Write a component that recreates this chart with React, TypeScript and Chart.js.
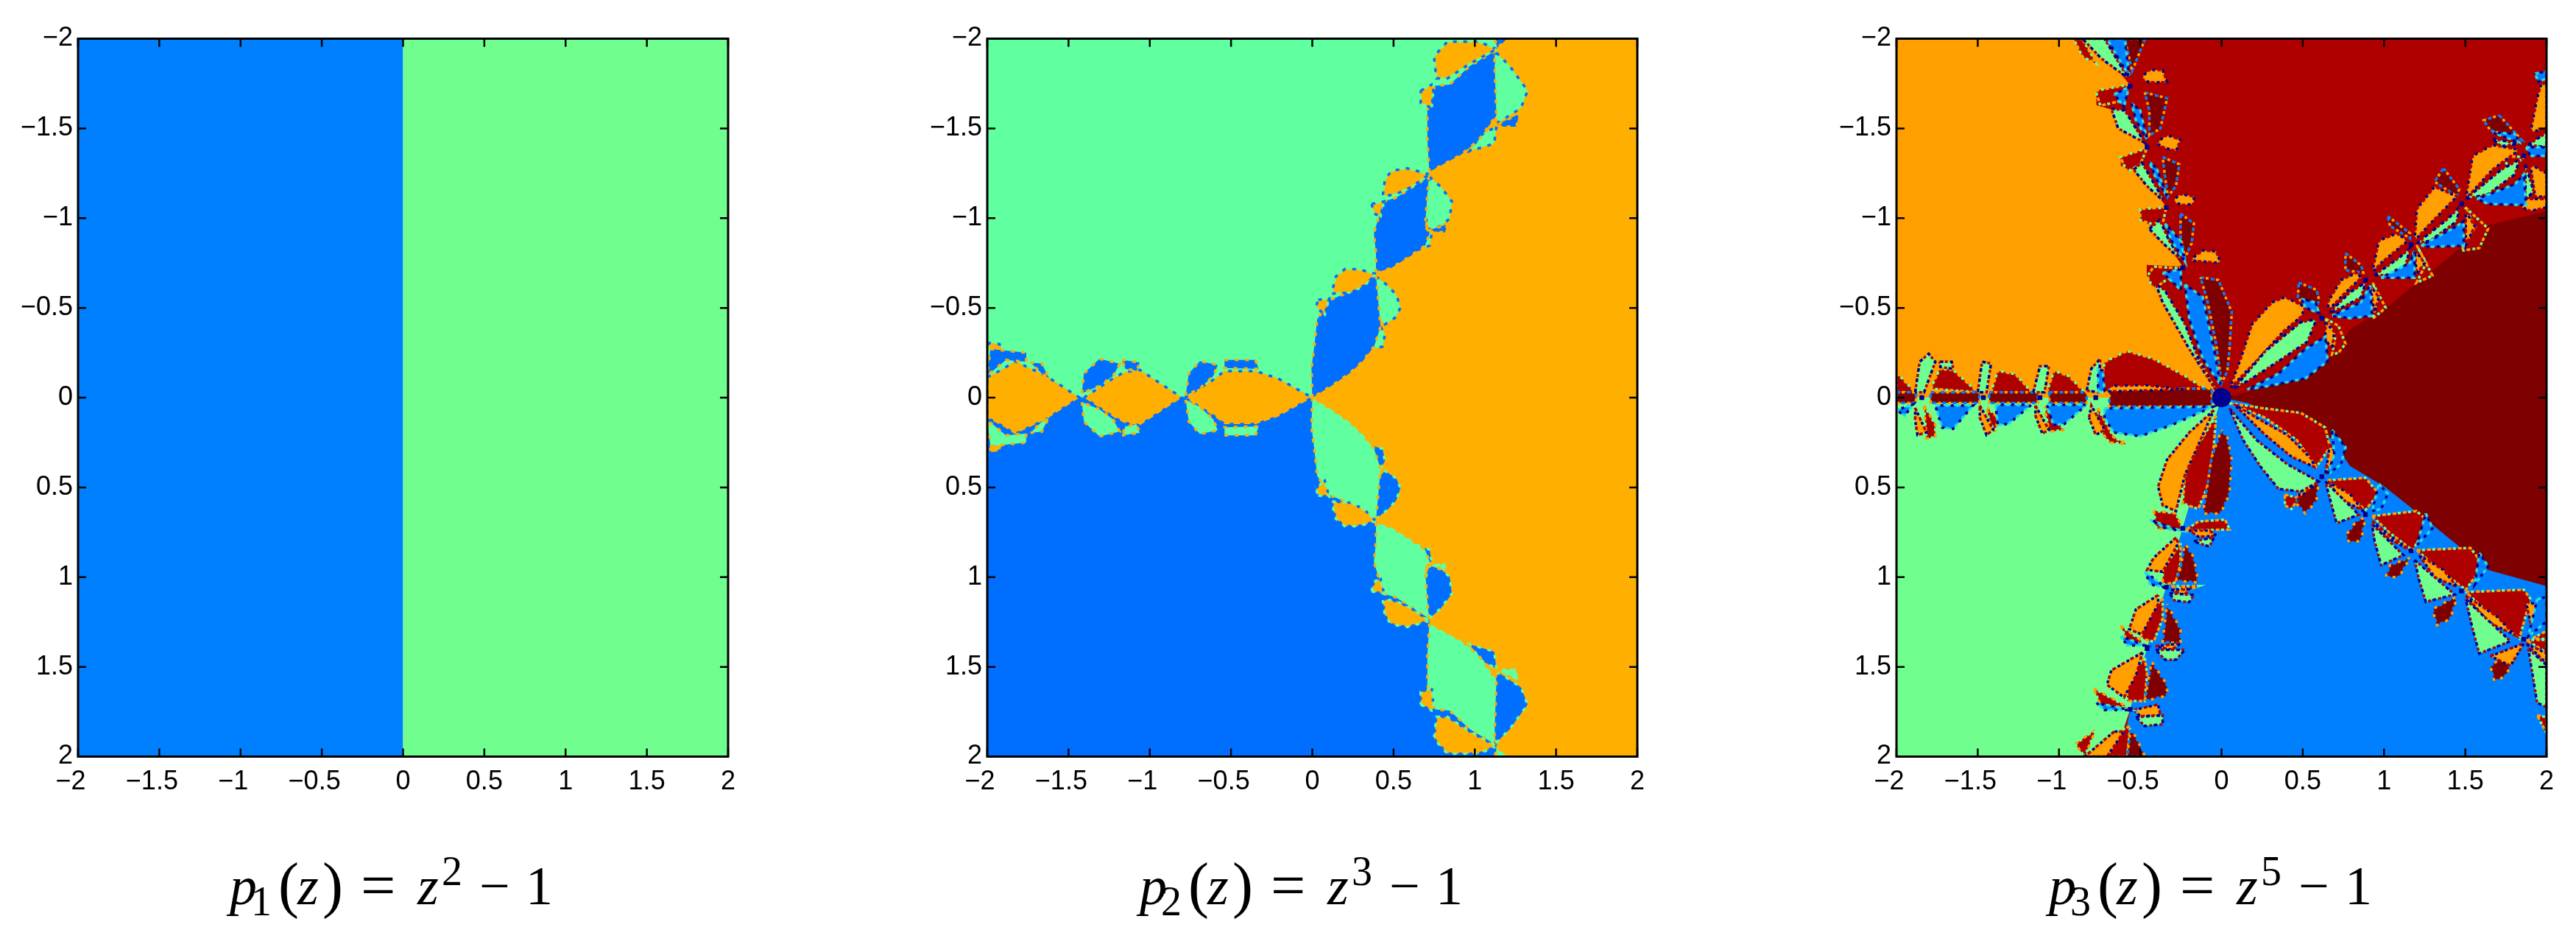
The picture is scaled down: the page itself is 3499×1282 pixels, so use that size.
import React, { useEffect, useRef } from "react";
import { Chart, registerables } from "chart.js";
Chart.register(...registerables);

type Poly = number[][];
const tickValues = [-2, -1.5, -1, -0.5, 0, 0.5, 1, 1.5, 2];
const xTickLabels = ["\u22122  ", "\u22121.5  ", "\u22121  ", "\u22120.5  ", "0", "0.5", "1", "1.5", "2"];
const yTickLabels = ["\u22122", "\u22121.5", "\u22121", "\u22120.5", "0", "0.5", "1", "1.5", "2"];

/* ---------- panel 1 ---------- */
const p1Blue: Poly[] = [[[-2, -2], [0, -2], [0, 2], [-2, 2]]];
const p1Green: Poly[] = [[[0, -2], [2, -2], [2, 2], [0, 2]]];

/* ---------- panel 2 ---------- */
const p2Back: Poly[] = [[[-2, -2], [2, -2], [2, 2], [-2, 2]]];
const p2BaseGreen: Poly[] = [[[-2, -2], [1.13, -2], [1.133, -1.93], [0.72, -1.244], [0.392, -0.689], [0, 0], [-2, 0]]];
const p2BaseBlue: Poly[] = [[[-2, 2], [1.13, 2], [1.133, 1.93], [0.72, 1.244], [0.392, 0.689], [0, 0], [-2, 0]]];
const p2TopOrange: Poly[] = [
  [[0.392, -0.689], [0.283, -0.716], [0.2, -0.716], [0.145, -0.675], [0.118, -0.579], [0.241, -0.586], [0.324, -0.627]],
  [[0.036, -0.545], [0.104, -0.552], [0.077, -0.463], [0.022, -0.504]],
  [[0.72, -1.244], [0.584, -1.278], [0.488, -1.264], [0.447, -1.216], [0.433, -1.121], [0.516, -1.134], [0.612, -1.175]],
  [[0.365, -1.079], [0.442, -1.093], [0.42, -1.011], [0.379, -1.025]],
  [[1.133, -1.942], [1.024, -1.984], [0.831, -1.984], [0.749, -1.901], [0.763, -1.778], [0.831, -1.778], [0.969, -1.86]],
  [[0.667, -1.71], [0.749, -1.751], [0.735, -1.614], [0.667, -1.641]],
];
const p2LowOrange: Poly[] = [
  [[0.392, 0.689], [0.283, 0.716], [0.2, 0.716], [0.145, 0.675], [0.118, 0.579], [0.241, 0.586], [0.324, 0.627]],
  [[0.036, 0.545], [0.104, 0.552], [0.077, 0.463], [0.022, 0.504]],
  [[0.72, 1.244], [0.584, 1.278], [0.488, 1.264], [0.447, 1.216], [0.433, 1.121], [0.516, 1.134], [0.612, 1.175]],
  [[0.365, 1.079], [0.442, 1.093], [0.42, 1.011], [0.379, 1.025]],
  [[1.133, 1.942], [1.024, 1.984], [0.831, 1.984], [0.749, 1.901], [0.763, 1.778], [0.831, 1.778], [0.969, 1.86]],
  [[0.667, 1.71], [0.749, 1.751], [0.735, 1.614], [0.667, 1.641]],
];
const p2Arches: Poly[] = [
  [[-0.785, 0], [-0.609, -0.1], [-0.54, -0.148], [-0.348, -0.148], [-0.211, -0.107], [0, 0], [-0.211, 0.107], [-0.348, 0.148], [-0.54, 0.148], [-0.609, 0.1]],
  [[-1.405, 0], [-1.226, -0.107], [-1.158, -0.141], [-1.062, -0.155], [-0.801, 0], [-1.062, 0.155], [-1.158, 0.141], [-1.226, 0.107]],
  [[-2, -0.114], [-1.898, -0.162], [-1.83, -0.203], [-1.638, -0.121], [-1.432, 0], [-1.638, 0.121], [-1.83, 0.203], [-1.898, 0.162], [-2, 0.114]],
  [[-2, -0.305], [-1.926, -0.299], [-1.898, -0.244], [-1.98, -0.271]],
  [[-2, 0.305], [-1.926, 0.299], [-1.898, 0.244], [-1.98, 0.271]],
];
const p2TopBlue: Poly[] = [
  [[0, 0], [-0.005, -0.162], [0.014, -0.3], [0.03, -0.436], [0.11, -0.545], [0.186, -0.573], [0.283, -0.614], [0.392, -0.682], [0.42, -0.395], [0.38, -0.285], [0.31, -0.203], [0.228, -0.134], [0.118, -0.066]],
  [[0.392, -0.696], [0.392, -0.805], [0.379, -0.915], [0.406, -0.997], [0.442, -1.093], [0.516, -1.114], [0.598, -1.162], [0.716, -1.23], [0.694, -0.956], [0.722, -0.915], [0.694, -0.847], [0.584, -0.778], [0.488, -0.723]],
  [[0.72, -1.258], [0.708, -1.436], [0.708, -1.6], [0.754, -1.737], [0.845, -1.744], [0.969, -1.847], [1.119, -1.929], [1.133, -1.573], [1.024, -1.436], [0.914, -1.353], [0.804, -1.299]],
  [[0.71, -0.93], [0.831, -0.965], [0.817, -0.92]],
  [[1.147, -1.525], [1.27, -1.58], [1.257, -1.51], [1.175, -1.51]],
  [[1.12, -2], [1.2, -2], [1.14, -1.95]],
  [[-0.779, -0.011], [-0.76, -0.134], [-0.691, -0.203], [-0.582, -0.182], [-0.609, -0.121], [-0.691, -0.052]],
  [[-1.418, -0.025], [-1.405, -0.134], [-1.309, -0.216], [-1.185, -0.189], [-1.226, -0.121], [-1.309, -0.066]],
  [[-0.54, -0.21], [-0.35, -0.21], [-0.33, -0.16], [-0.54, -0.165]],
  [[-1.171, -0.21], [-1.062, -0.196], [-1.08, -0.15], [-1.15, -0.16]],
  [[-1.734, -0.196], [-1.665, -0.19], [-1.62, -0.11], [-1.66, -0.13]],
  [[-1.98, -0.271], [-1.76, -0.25], [-1.761, -0.2], [-1.885, -0.21], [-1.967, -0.148], [-2, -0.13]],
];
const p2TopGreen: Poly[] = [
  [[0.392, -0.675], [0.461, -0.627], [0.516, -0.573], [0.543, -0.504], [0.516, -0.449], [0.447, -0.408], [0.406, -0.449], [0.379, -0.504]],
  [[0.42, -0.395], [0.447, -0.353], [0.433, -0.285], [0.379, -0.271], [0.365, -0.312]],
  [[0.722, -1.23], [0.79, -1.175], [0.859, -1.093], [0.845, -0.997], [0.79, -0.956], [0.722, -0.936], [0.694, -1.011], [0.694, -1.093]],
  [[0.68, -0.915], [0.735, -0.915], [0.722, -0.847], [0.639, -0.82], [0.584, -0.785]],
  [[1.133, -1.922], [1.215, -1.847], [1.325, -1.71], [1.284, -1.614], [1.147, -1.532], [1.092, -1.641], [1.092, -1.778]],
  [[1.133, -1.51], [1.119, -1.415], [0.969, -1.374], [1.037, -1.463]],
];
const p2LowGreen: Poly[] = [
  [[0, 0], [-0.005, 0.162], [0.014, 0.3], [0.03, 0.436], [0.11, 0.545], [0.186, 0.573], [0.283, 0.614], [0.392, 0.682], [0.42, 0.395], [0.38, 0.285], [0.31, 0.203], [0.228, 0.134], [0.118, 0.066]],
  [[0.392, 0.696], [0.392, 0.805], [0.379, 0.915], [0.406, 0.997], [0.442, 1.093], [0.516, 1.114], [0.598, 1.162], [0.716, 1.23], [0.694, 0.956], [0.722, 0.915], [0.694, 0.847], [0.584, 0.778], [0.488, 0.723]],
  [[0.72, 1.258], [0.708, 1.436], [0.708, 1.6], [0.754, 1.737], [0.845, 1.744], [0.969, 1.847], [1.119, 1.929], [1.133, 1.573], [1.024, 1.436], [0.914, 1.353], [0.804, 1.299]],
  [[0.71, 0.93], [0.831, 0.965], [0.817, 0.92]],
  [[1.147, 1.525], [1.27, 1.58], [1.257, 1.51], [1.175, 1.51]],
  [[1.12, 2], [1.2, 2], [1.14, 1.95]],
  [[-0.779, 0.011], [-0.76, 0.134], [-0.691, 0.203], [-0.582, 0.182], [-0.609, 0.121], [-0.691, 0.052]],
  [[-1.418, 0.025], [-1.405, 0.134], [-1.309, 0.216], [-1.185, 0.189], [-1.226, 0.121], [-1.309, 0.066]],
  [[-0.54, 0.21], [-0.35, 0.21], [-0.33, 0.16], [-0.54, 0.165]],
  [[-1.171, 0.21], [-1.062, 0.196], [-1.08, 0.15], [-1.15, 0.16]],
  [[-1.734, 0.196], [-1.665, 0.19], [-1.62, 0.11], [-1.66, 0.13]],
  [[-1.98, 0.271], [-1.76, 0.25], [-1.761, 0.2], [-1.885, 0.21], [-1.967, 0.148], [-2, 0.13]],
];
const p2LowBlue: Poly[] = [
  [[0.392, 0.675], [0.461, 0.627], [0.516, 0.573], [0.543, 0.504], [0.516, 0.449], [0.447, 0.408], [0.406, 0.449], [0.379, 0.504]],
  [[0.42, 0.395], [0.447, 0.353], [0.433, 0.285], [0.379, 0.271], [0.365, 0.312]],
  [[0.722, 1.23], [0.79, 1.175], [0.859, 1.093], [0.845, 0.997], [0.79, 0.956], [0.722, 0.936], [0.694, 1.011], [0.694, 1.093]],
  [[0.68, 0.915], [0.735, 0.915], [0.722, 0.847], [0.639, 0.82], [0.584, 0.785]],
  [[1.133, 1.922], [1.215, 1.847], [1.325, 1.71], [1.284, 1.614], [1.147, 1.532], [1.092, 1.641], [1.092, 1.778]],
  [[1.133, 1.51], [1.119, 1.415], [0.969, 1.374], [1.037, 1.463]],
];

/* ---------- panel 3 ---------- */
const p3Back: Poly[] = [[[-2, -2], [2, -2], [2, 2], [-2, 2]]];
const p3BaseOrange: Poly[] = [[[-2, -2], [-0.8, -2], [-0.72, -1.92], [-0.562, -1.74], [-0.77, -1.71], [-0.77, -1.63], [-0.66, -1.6], [-0.56, -1.52], [-0.458, -1.39], [-0.62, -1.34], [-0.62, -1.29], [-0.52, -1.28], [-0.43, -1.19], [-0.34, -1.06], [-0.5, -1.05], [-0.5, -0.99], [-0.44, -0.96], [-0.34, -0.87], [-0.24, -0.73], [-0.46, -0.74], [-0.46, -0.68], [-0.38, -0.62], [-0.25, -0.41], [0, 0], [-2, 0]]];
const p3BaseMaroon: Poly[] = [[[0, 0], [0.16, -0.03], [0.68, -0.23], [0.79, -0.38], [1.01, -0.5], [1.3, -0.71], [1.64, -0.96], [2, -1.04], [2, 1.05], [1.64, 0.96], [1.3, 0.71], [1.01, 0.5], [0.79, 0.38], [0.68, 0.23], [0.16, 0.03]]];
const p3BaseGreen: Poly[] = [[[-2, 0], [0, 0], [-0.239, 0.728], [-0.34, 1.056], [-0.458, 1.398], [-0.562, 1.737], [-0.66, 2], [-2, 2]]];
const p3BaseBlue: Poly[] = [[[0, 0], [-0.239, 0.728], [-0.34, 1.056], [-0.458, 1.398], [-0.562, 1.737], [-0.62, 2], [2, 2], [2, 1.05], [1.64, 0.96], [1.3, 0.71], [1.01, 0.5], [0.79, 0.38], [0.68, 0.23], [0.16, 0.03]]];

const p3Dark: Poly[] = [
  [[-0.239, -0.72], [-0.417, -0.73], [-0.458, -0.675], [-0.417, -0.605], [-0.334, -0.66]],
  [[-0.34, -1.059], [-0.5, -1.052], [-0.5, -0.99], [-0.444, -0.97], [-0.362, -0.97]],
  [[-0.458, -1.39], [-0.623, -1.34], [-0.58, -1.258], [-0.5, -1.3]],
  [[-0.568, -1.744], [-0.774, -1.71], [-0.746, -1.627], [-0.609, -1.655]],
  [[-0.91, -2], [-0.856, -2], [-0.77, -1.86], [-0.856, -1.9]],
  [[0.64, -0.44], [0.72, -0.4], [0.763, -0.3], [0.72, -0.25], [0.68, -0.24], [0.7, -0.34]],
  [[0.93, -0.64], [1.01, -0.5], [0.93, -0.44], [0.96, -0.55]],
  [[1.2, -0.85], [1.298, -0.68], [1.2, -0.64], [1.26, -0.75]],
  [[1.5, -1.06], [1.641, -0.942], [1.586, -0.833], [1.476, -0.819], [1.56, -0.95]],
  [[1.723, -1.347], [1.86, -1.34], [1.778, -1.271]],
  [[-0.75, -0.03], [-0.719, -0.2], [-0.582, -0.26], [-0.417, -0.216], [-0.225, -0.121], [-0.05, -0.02]],
  [[-0.76, 0.06], [-0.664, 0.22], [-0.58, 0.26], [-0.69, 0.25], [-0.774, 0.15]],
  [[-1.075, -0.03], [-1.03, -0.15], [-0.94, -0.12], [-0.83, -0.02]],
  [[-1.09, 0.05], [-0.966, 0.18], [-1.06, 0.19]],
  [[-1.418, -0.03], [-1.377, -0.15], [-1.267, -0.13], [-1.158, -0.02]],
  [[-1.446, 0.05], [-1.377, 0.112], [-1.39, 0.194], [-1.43, 0.13]],
  [[-1.789, -0.05], [-1.734, -0.16], [-1.652, -0.155], [-1.5, -0.03]],
  [[-2, -0.03], [-2, -0.14], [-1.885, -0.03]],
  [[-1.83, 0.044], [-1.761, 0.15], [-1.761, 0.22], [-1.816, 0.228]],
  [[-0.033, 0.1], [-0.143, 0.263], [-0.225, 0.43], [-0.239, 0.59], [-0.143, 0.62], [-0.074, 0.468], [-0.047, 0.263]],
  [[-0.417, 0.63], [-0.4, 0.73], [-0.239, 0.735], [-0.28, 0.645]],
  [[-0.225, 0.74], [0.05, 0.735], [0.022, 0.68], [-0.143, 0.69]],
  [[-0.252, 0.81], [-0.362, 0.96], [-0.362, 1.04], [-0.28, 1.03], [-0.252, 0.92]],
  [[-0.31, 1.05], [-0.14, 1.05], [-0.2, 1.07]],
  [[-0.362, 1.12], [-0.458, 1.22], [-0.5, 1.34], [-0.417, 1.36], [-0.362, 1.23]],
  [[-0.62, 1.27], [-0.47, 1.37], [-0.58, 1.36]],
  [[-0.472, 1.45], [-0.582, 1.56], [-0.582, 1.69], [-0.472, 1.69], [-0.458, 1.54]],
  [[-0.787, 1.62], [-0.565, 1.73], [-0.746, 1.71]],
  [[-0.609, 1.85], [-0.705, 2], [-0.58, 2], [-0.562, 1.83]],
  [[-0.9, 1.93], [-0.774, 1.85], [-0.842, 2]],
  [[0.049, 0.03], [0.241, 0.057], [0.488, 0.085], [0.639, 0.167], [0.667, 0.276], [0.584, 0.386], [0.461, 0.235], [0.269, 0.112]],
  [[0.39, 0.54], [0.475, 0.56], [0.43, 0.62], [0.39, 0.6]],
  [[0.653, 0.46], [0.886, 0.447], [0.968, 0.536], [0.886, 0.625], [0.763, 0.536]],
  [[0.927, 0.66], [1.2, 0.632], [1.284, 0.7], [1.174, 0.85], [1.037, 0.755]],
  [[1.202, 0.85], [1.531, 0.837], [1.613, 0.933], [1.503, 1.07], [1.339, 0.96]],
  [[1.503, 1.083], [1.86, 1.07], [1.9, 1.12], [1.833, 1.343], [1.668, 1.22]],
  [[1.915, 1.34], [2, 1.3], [2, 1.345]],
  [[1.874, 1.35], [2, 1.35], [2, 1.42]],
  [[1.942, 1.77], [2, 1.78], [2, 1.87]],
];
const p3Maroon: Poly[] = [
  [[-0.129, -0.67], [-0.019, -0.655], [0.063, -0.477], [0.049, -0.27], [0.036, -0.148], [0, -0.08], [-0.033, -0.3], [-0.088, -0.545]],
  [[-0.252, -1.025], [-0.17, -0.97], [-0.184, -0.86], [-0.225, -0.778], [-0.252, -0.9]],
  [[-0.362, -1.34], [-0.26, -1.3], [-0.28, -1.18], [-0.33, -1.12], [-0.35, -1.25]],
  [[-0.472, -1.7], [-0.335, -1.668], [-0.376, -1.5], [-0.444, -1.46], [-0.444, -1.6]],
  [[-0.595, -2], [-0.47, -2], [-0.55, -1.82]],
  [[0.475, -0.641], [0.585, -0.6], [0.6, -0.545], [0.58, -0.49], [0.47, -0.55]],
  [[0.763, -0.805], [0.859, -0.737], [0.872, -0.696], [0.763, -0.71]],
  [[1.023, -1.011], [1.16, -0.915], [1.16, -0.888], [1.037, -0.956]],
  [[1.366, -1.278], [1.462, -1.162], [1.449, -1.121], [1.311, -1.203]],
  [[1.709, -1.573], [1.846, -1.436], [1.805, -1.449], [1.654, -1.49], [1.613, -1.545]],
  [[-0.69, -0.05], [-0.06, -0.05], [-0.06, 0.05], [-0.69, 0.05]],
  [[-1.06, -0.03], [-0.83, -0.03], [-0.83, 0.03], [-1.06, 0.03]],
  [[-1.43, -0.03], [-1.13, -0.03], [-1.13, 0.03], [-1.43, 0.03]],
  [[-1.79, -0.03], [-1.49, -0.03], [-1.49, 0.03], [-1.79, 0.03]],
  [[-2, -0.03], [-1.88, -0.03], [-1.88, 0.03], [-2, 0.03]],
  [[0, 0.18], [-0.06, 0.33], [-0.088, 0.495], [-0.115, 0.646], [-0.005, 0.646], [0.049, 0.536], [0.063, 0.345], [0.036, 0.222]],
  [[-0.225, 0.81], [-0.252, 0.95], [-0.28, 1.02], [-0.143, 1.03], [-0.17, 0.89]],
  [[-0.335, 1.15], [-0.362, 1.36], [-0.252, 1.37], [-0.252, 1.29]],
  [[-0.43, 1.47], [-0.472, 1.69], [-0.335, 1.66], [-0.335, 1.6]],
  [[-0.56, 1.85], [-0.58, 2], [-0.47, 2], [-0.527, 1.89]],
  [[0.598, 0.468], [0.584, 0.577], [0.516, 0.646], [0.461, 0.59], [0.475, 0.536]],
  [[0.886, 0.666], [0.859, 0.796], [0.79, 0.81], [0.763, 0.77], [0.831, 0.686]],
  [[1.16, 0.892], [1.092, 1.0], [1.01, 1.0], [1.037, 0.933]],
  [[1.45, 1.11], [1.407, 1.234], [1.325, 1.268], [1.298, 1.18], [1.407, 1.124]],
  [[1.833, 1.384], [1.75, 1.549], [1.68, 1.583], [1.654, 1.494]],
];
const p3Orange: Poly[] = [
  [[-0.197, -0.765], [-0.115, -0.82], [-0.033, -0.815], [-0.005, -0.75], [-0.14, -0.76]],
  [[-0.307, -1.093], [-0.252, -1.134], [-0.17, -1.121], [-0.17, -1.079], [-0.239, -1.073]],
  [[-0.403, -1.42], [-0.335, -1.463], [-0.252, -1.436], [-0.28, -1.374], [-0.36, -1.395]],
  [[-0.5, -1.778], [-0.444, -1.826], [-0.362, -1.826], [-0.335, -1.757], [-0.444, -1.757]],
  [[0.049, -0.05], [0.118, -0.216], [0.187, -0.408], [0.31, -0.53], [0.392, -0.56], [0.516, -0.504], [0.488, -0.45], [0.379, -0.367], [0.214, -0.203]],
  [[0.64, -0.42], [0.694, -0.367], [0.68, -0.27], [0.639, -0.326]],
  [[0.653, -0.53], [0.735, -0.655], [0.831, -0.696], [0.859, -0.668], [0.763, -0.586], [0.66, -0.49]],
  [[0.914, -0.627], [0.968, -0.559], [0.941, -0.477]],
  [[0.927, -0.696], [0.968, -0.874], [1.078, -0.915], [1.147, -0.874], [0.982, -0.751]],
  [[1.19, -0.82], [1.25, -0.75], [1.2, -0.69]],
  [[1.188, -0.874], [1.202, -1.052], [1.311, -1.175], [1.449, -1.121], [1.284, -0.97]],
  [[1.503, -1.038], [1.558, -0.956], [1.503, -0.847]],
  [[1.503, -1.107], [1.545, -1.347], [1.668, -1.408], [1.833, -1.381], [1.668, -1.271]],
  [[1.901, -1.477], [1.942, -1.668], [1.97, -1.757], [2, -1.737], [2, -1.504]],
  [[1.9, -1.3], [2, -1.25], [2, -1.12], [1.93, -1.12]],
  [[1.833, -1.107], [2, -1.107], [2, -1.06], [1.9, -1.04], [1.85, -1.06]],
  [[-0.69, -0.065], [-0.47, -0.07], [-0.225, -0.045], [-0.69, -0.035]],
  [[-0.815, 0.112], [-0.801, 0.044], [-0.719, 0.18], [-0.774, 0.208]],
  [[-1.145, 0.044], [-1.062, 0.18], [-1.103, 0.2], [-1.145, 0.1]],
  [[-1.487, 0.044], [-1.405, 0.18], [-1.446, 0.208], [-1.487, 0.112]],
  [[-1.885, 0.057], [-1.816, 0.194], [-1.871, 0.208], [-1.885, 0.126]],
  [[-0.047, 0.07], [-0.198, 0.194], [-0.335, 0.345], [-0.39, 0.495], [-0.362, 0.6], [-0.28, 0.632], [-0.225, 0.43], [-0.088, 0.153]],
  [[-0.198, 0.74], [-0.074, 0.74], [-0.03, 0.77], [-0.143, 0.775]],
  [[-0.28, 0.78], [-0.417, 0.892], [-0.458, 0.96], [-0.362, 0.97], [-0.266, 0.81]],
  [[-0.31, 1.07], [-0.2, 1.07], [-0.23, 1.1]],
  [[-0.39, 1.1], [-0.527, 1.18], [-0.568, 1.29], [-0.49, 1.32], [-0.39, 1.15]],
  [[-0.405, 1.385], [-0.252, 1.37], [-0.307, 1.405]],
  [[-0.486, 1.42], [-0.678, 1.52], [-0.705, 1.6], [-0.6, 1.67], [-0.527, 1.55]],
  [[-0.54, 1.74], [-0.39, 1.71], [-0.376, 1.77], [-0.5, 1.775]],
  [[-0.66, 1.86], [-0.842, 2], [-0.705, 2], [-0.6, 1.86]],
  [[0.077, 0.037], [0.241, 0.126], [0.406, 0.208], [0.557, 0.345], [0.571, 0.386], [0.433, 0.331], [0.269, 0.208]],
  [[0.488, 0.495], [0.598, 0.468], [0.475, 0.56]],
  [[0.667, 0.26], [0.708, 0.317], [0.639, 0.427]],
  [[0.653, 0.468], [0.79, 0.536], [0.872, 0.632], [0.735, 0.564]],
  [[0.927, 0.687], [1.037, 0.77], [1.16, 0.85], [1.023, 0.782]],
  [[1.215, 0.878], [1.366, 0.96], [1.449, 1.055], [1.311, 1.0]],
  [[1.503, 1.104], [1.695, 1.22], [1.805, 1.323], [1.64, 1.25]],
  [[1.654, 1.44], [1.86, 1.37], [1.778, 1.494]],
  [[1.874, 1.138], [1.942, 1.152], [1.915, 1.316]],
  [[1.874, 1.37], [2, 1.425], [2, 1.48]],
];
const p3Green: Poly[] = [
  [[-0.033, -0.04], [-0.198, -0.27], [-0.362, -0.53], [-0.403, -0.63], [-0.35, -0.6], [-0.225, -0.41], [-0.143, -0.22]],
  [[-0.444, -0.94], [-0.38, -0.99], [-0.32, -0.87], [-0.24, -0.76], [-0.36, -0.86]],
  [[-0.54, -1.27], [-0.49, -1.31], [-0.42, -1.2], [-0.35, -1.09], [-0.46, -1.18]],
  [[-0.678, -1.61], [-0.595, -1.6], [-0.472, -1.42], [-0.636, -1.5]],
  [[-0.856, -2], [-0.72, -2], [-0.575, -1.78], [-0.74, -1.89]],
  [[0.077, -0.05], [0.269, -0.258], [0.488, -0.42], [0.584, -0.436], [0.529, -0.312], [0.351, -0.203], [0.187, -0.107]],
  [[0.66, -0.47], [0.79, -0.586], [0.886, -0.641], [0.859, -0.559], [0.735, -0.5]],
  [[0.941, -0.682], [1.092, -0.778], [1.16, -0.833], [1.133, -0.737], [1.037, -0.682]],
  [[1.202, -0.86], [1.394, -0.997], [1.462, -1.059], [1.449, -0.984], [1.284, -0.874]],
  [[1.503, -1.107], [1.723, -1.271], [1.833, -1.326], [1.805, -1.244], [1.641, -1.134]],
  [[1.668, -1.442], [1.833, -1.415], [1.72, -1.4]],
  [[1.888, -1.408], [2, -1.477], [2, -1.395]],
  [[1.87, -1.3], [1.92, -1.15], [1.87, -1.1]],
  [[-0.829, -0.04], [-0.801, -0.162], [-0.746, -0.216], [-0.76, -0.03]],
  [[-1.158, -0.03], [-1.117, -0.175], [-1.062, -0.175], [-1.089, -0.03]],
  [[-1.5, -0.03], [-1.473, -0.2], [-1.418, -0.19], [-1.446, -0.03]],
  [[-1.885, -0.03], [-1.857, -0.2], [-1.802, -0.244], [-1.761, -0.2], [-1.83, -0.03]],
  [[-1.734, -0.2], [-1.66, -0.2], [-1.65, -0.16], [-1.73, -0.17]],
  [[-0.17, 0.8], [-0.047, 0.78], [-0.074, 0.83], [-0.143, 0.81]],
  [[-0.32, 1.09], [-0.17, 1.1], [-0.2, 1.14], [-0.29, 1.13]],
  [[-0.405, 1.405], [-0.225, 1.405], [-0.28, 1.46], [-0.348, 1.46]],
  [[-0.527, 1.78], [-0.362, 1.77], [-0.362, 1.82], [-0.472, 1.83]],
  [[0.049, 0.06], [0.214, 0.235], [0.406, 0.372], [0.543, 0.44], [0.598, 0.468], [0.488, 0.523], [0.351, 0.509], [0.241, 0.386], [0.132, 0.235]],
  [[0.639, 0.468], [0.845, 0.652], [0.708, 0.7], [0.667, 0.564]],
  [[0.927, 0.707], [1.12, 0.878], [0.982, 0.933], [0.941, 0.796]],
  [[1.188, 0.905], [1.435, 1.097], [1.257, 1.138], [1.215, 1.014]],
  [[1.503, 1.124], [1.778, 1.357], [1.586, 1.426], [1.545, 1.289]],
  [[1.888, 1.4], [2, 1.49], [2, 1.725], [1.942, 1.7]],
];
const p3Blue: Poly[] = [
  [[-0.225, -0.63], [-0.115, -0.56], [-0.047, -0.27], [-0.005, -0.07], [-0.115, -0.216], [-0.198, -0.436]],
  [[-0.362, -0.695], [-0.25, -0.715], [-0.25, -0.6]],
  [[-0.348, -0.97], [-0.252, -0.874], [-0.225, -0.758], [-0.307, -0.874]],
  [[-0.444, -1.312], [-0.4, -1.28], [-0.335, -1.121], [-0.403, -1.22]],
  [[-0.554, -1.64], [-0.5, -1.6], [-0.458, -1.44], [-0.527, -1.545]],
  [[-0.66, -1.69], [-0.57, -1.73], [-0.6, -1.62]],
  [[-0.705, -2], [-0.595, -2], [-0.568, -1.79], [-0.65, -1.915]],
  [[0.159, -0.045], [0.351, -0.134], [0.516, -0.271], [0.639, -0.34], [0.653, -0.203], [0.516, -0.107], [0.296, -0.066]],
  [[0.49, -0.55], [0.58, -0.53], [0.6, -0.47], [0.52, -0.5]],
  [[0.68, -0.456], [0.859, -0.532], [0.914, -0.627], [0.927, -0.456], [0.79, -0.442]],
  [[0.982, -0.668], [1.16, -0.751], [1.188, -0.819], [1.188, -0.668]],
  [[1.229, -0.847], [1.449, -0.956], [1.49, -0.984], [1.49, -0.847], [1.284, -0.84]],
  [[1.572, -1.107], [1.805, -1.189], [1.86, -1.244], [1.874, -1.073], [1.641, -1.079]],
  [[1.668, -1.477], [1.805, -1.47], [1.833, -1.422]],
  [[1.874, -1.395], [2, -1.395], [2, -1.347], [1.901, -1.347]],
  [[1.929, -1.805], [2, -1.819], [2, -1.778], [1.95, -1.76]],
  [[-0.76, -0.03], [-0.76, -0.16], [-0.73, -0.15], [-0.72, -0.04]],
  [[-0.72, 0.06], [-0.05, 0.05], [-0.307, 0.153], [-0.5, 0.215], [-0.664, 0.194], [-0.72, 0.112]],
  [[-1.075, 0.04], [-0.83, 0.04], [-0.966, 0.146], [-1.034, 0.153]],
  [[-1.39, 0.04], [-1.17, 0.04], [-1.31, 0.146], [-1.377, 0.153]],
  [[-1.761, 0.044], [-1.528, 0.044], [-1.652, 0.174], [-1.72, 0.167]],
  [[-2, 0.07], [-1.896, 0.037], [-1.95, 0.1]],
  [[-0.44, 0.68], [-0.34, 0.73], [-0.26, 0.74]],
  [[-0.47, 0.97], [-0.44, 1.04], [-0.34, 1.06]],
  [[-0.62, 1.33], [-0.47, 1.38], [-0.58, 1.38]],
  [[-0.77, 1.7], [-0.565, 1.74], [-0.72, 1.74]],
  [[0.68, 0.18], [0.763, 0.276], [0.735, 0.372], [0.653, 0.427], [0.694, 0.317]],
  [[0.968, 0.48], [1.023, 0.536], [0.982, 0.62], [0.927, 0.632]],
  [[1.257, 0.645], [1.298, 0.728], [1.2, 0.824]],
  [[1.586, 0.865], [1.641, 0.94], [1.558, 1.042]],
  [[1.942, 1.124], [2, 1.11], [2, 1.247], [1.888, 1.33]],
];
const p3PinchX = [-0.239, -0.34, -0.458, -0.562, 0.617, 0.886, 1.166, 1.476, 1.86, -0.774, -1.117, -1.465, -1.844, -0.239, -0.34, -0.458, -0.562, 0.617, 0.886, 1.166, 1.476, 1.86];
const p3PinchY = [-0.723, -1.059, -1.395, -1.737, -0.442, -0.655, -0.853, -1.079, -1.347, 0, 0, 0, 0, 0.728, 1.056, 1.398, 1.737, 0.44, 0.652, 0.854, 1.077, 1.346];

/* ---------- styles ---------- */
const C = {
  p1blue: "#007fff", p1green: "#70ff8f",
  p2blue: "#006fff", p2green: "#60ff9f", p2orange: "#ffaf00",
  p3blue: "#007fff", p3green: "#70ff8f", p3orange: "#ff9f00",
  dark: "#af0000", maroon: "#7f0000", navy: "#00008f", cyan: "#20dfdf",
};
type Layer = { polys: Poly[]; fill: string; fringe?: string; fringe2?: string };
const panel1Layers: Layer[] = [
  { polys: p1Blue, fill: C.p1blue },
  { polys: p1Green, fill: C.p1green },
];
const panel2Layers: Layer[] = [
  { polys: p2Back, fill: C.p2orange },
  { polys: p2BaseGreen, fill: C.p2green },
  { polys: p2BaseBlue, fill: C.p2blue },
  { polys: p2Arches, fill: C.p2orange, fringe: C.p2blue },
  { polys: p2TopGreen, fill: C.p2green, fringe: C.p2blue },
  { polys: p2LowBlue, fill: C.p2blue, fringe: C.p2green },
  { polys: p2TopBlue, fill: C.p2blue, fringe: C.p2orange },
  { polys: p2LowGreen, fill: C.p2green, fringe: C.p2orange },
  { polys: p2TopOrange, fill: C.p2orange, fringe: C.p2blue, fringe2: C.p2green },
  { polys: p2LowOrange, fill: C.p2orange, fringe: C.p2green, fringe2: C.p2blue },
];
const panel3Layers: Layer[] = [
  { polys: p3Back, fill: C.dark },
  { polys: p3BaseOrange, fill: C.p3orange },
  { polys: p3BaseMaroon, fill: C.maroon },
  { polys: p3BaseGreen, fill: C.p3green },
  { polys: p3BaseBlue, fill: C.p3blue },
  { polys: p3Dark, fill: C.dark, fringe: C.p3orange, fringe2: C.p3green },
  { polys: p3Maroon, fill: C.maroon, fringe: C.p3blue, fringe2: C.p3orange },
  { polys: p3Orange, fill: C.p3orange, fringe: C.dark, fringe2: C.navy },
  { polys: p3Green, fill: C.p3green, fringe: C.navy, fringe2: C.dark },
  { polys: p3Blue, fill: C.p3blue, fringe: C.cyan, fringe2: C.navy },
];

const PLOT_W = 883, PLOT_TOP = 52.5, PLOT_BOTTOM = 1027.5, INSET = 105;
const panelLefts = [105.5, 1341, 2576];
const captionLefts = [306, 1542, 2777];
const captionIdx = [["1", "2"], ["2", "3"], ["3", "5"]];

const framePlugin = {
  id: "frame",
  afterDraw(chart: any) {
    const { ctx, chartArea: a, scales } = chart;
    ctx.save();
    ctx.strokeStyle = "#000";
    ctx.lineWidth = 2.5;
    ctx.lineCap = "butt";
    const L = 11;
    ctx.beginPath();
    for (const t of scales.x.ticks) {
      const p = scales.x.getPixelForValue(t.value);
      ctx.moveTo(p, a.top); ctx.lineTo(p, a.top + L);
      ctx.moveTo(p, a.bottom); ctx.lineTo(p, a.bottom - L);
    }
    for (const t of scales.y.ticks) {
      const p = scales.y.getPixelForValue(t.value);
      ctx.moveTo(a.left, p); ctx.lineTo(a.left + L, p);
      ctx.moveTo(a.right, p); ctx.lineTo(a.right - L, p);
    }
    ctx.stroke();
    ctx.lineWidth = 3;
    ctx.strokeRect(a.left, a.top, a.right - a.left, a.bottom - a.top);
    ctx.restore();
  },
};

function layerDatasets(layers: Layer[]) {
  const out: any[] = [];
  for (const l of layers) {
    for (const poly of l.polys) {
      const closed = [...poly, poly[0]].map(([x, y]) => ({ x, y }));
      out.push({
        data: closed,
        showLine: true,
        fill: "shape",
        tension: 0,
        pointRadius: 0,
        backgroundColor: l.fill,
        borderColor: l.fringe ?? l.fill,
        borderWidth: l.fringe ? 3.5 : 0,
        borderDash: [5, 9],
      });
      if (l.fringe2) {
        out.push({
          data: closed,
          showLine: true,
          fill: false,
          tension: 0,
          pointRadius: 0,
          borderColor: l.fringe2,
          borderWidth: 3.5,
          borderDash: [4, 10],
          borderDashOffset: 7,
        });
      }
    }
  }
  return out;
}

function Panel({ index, layers, dots }: { index: number; layers: Layer[]; dots: boolean }) {
  const ref = useRef<HTMLCanvasElement | null>(null);
  useEffect(() => {
    const datasets = layerDatasets(layers);
    if (dots) {
      datasets.push({
        data: p3PinchX.map((x, i) => ({ x, y: p3PinchY[i] })),
        showLine: false, pointRadius: 4.5, pointStyle: "rect",
        pointBackgroundColor: C.navy, pointBorderWidth: 0,
      });
      datasets.push({
        data: [{ x: 0, y: 0 }],
        showLine: false, pointRadius: 13, pointStyle: "circle",
        pointBackgroundColor: C.navy, pointBorderWidth: 0,
      });
    }
    datasets.reverse();
    const tickFont = { family: "'Liberation Sans Narrow', 'Liberation Sans', sans-serif", size: 36 };
    const chart = new Chart(ref.current as HTMLCanvasElement, {
      type: "scatter",
      data: { datasets },
      plugins: [framePlugin],
      options: {
        responsive: false,
        animation: false,
        events: [],
        layout: { padding: { top: PLOT_TOP, right: 1028 - INSET - PLOT_W, left: 0, bottom: 0 } },
        plugins: { legend: { display: false }, tooltip: { enabled: false }, title: { display: false } },
        scales: {
          x: {
            type: "linear", min: -2, max: 2,
            afterBuildTicks: (s: any) => { s.ticks = tickValues.map((value) => ({ value })); },
            afterFit: (s: any) => { s.height = 1282 - PLOT_BOTTOM; },
            border: { display: false },
            grid: { display: false, drawTicks: false },
            ticks: { autoSkip: false, maxRotation: 0, padding: 13, color: "#000", font: tickFont,
              callback: (_v: any, i: number) => xTickLabels[i] },
          },
          y: {
            type: "linear", min: -2, max: 2, reverse: true,
            afterBuildTicks: (s: any) => { s.ticks = tickValues.map((value) => ({ value })); },
            afterFit: (s: any) => { s.width = INSET; },
            border: { display: false },
            grid: { display: false, drawTicks: false },
            ticks: { autoSkip: false, padding: 7, color: "#000", font: tickFont,
              callback: (_v: any, i: number) => yTickLabels[i] },
          },
        },
      },
    } as any);
    return () => chart.destroy();
  }, []);
  return (
    <canvas
      ref={ref}
      width={1028}
      height={1282}
      style={{ position: "absolute", left: panelLefts[index] - INSET, top: 0, width: 1028, height: 1282 }}
    />
  );
}

function Caption({ index }: { index: number }) {
  const [sub, sup] = captionIdx[index];
  const tokens: { t: string; x: number; size: number; base: number; it?: boolean }[] = [
    { t: "p", x: 6, size: 74, base: 1228, it: true },
    { t: sub, x: 35, size: 56, base: 1243 },
    { t: "(", x: 72, size: 84, base: 1230 },
    { t: "z", x: 98, size: 74, base: 1228, it: true },
    { t: ")", x: 132, size: 84, base: 1230 },
    { t: "=", x: 184, size: 84, base: 1231 },
    { t: "z", x: 261, size: 74, base: 1228, it: true },
    { t: sup, x: 294, size: 56, base: 1202 },
    { t: "\u2212", x: 345, size: 74, base: 1228 },
    { t: "1", x: 408, size: 74, base: 1228 },
  ];
  return (
    <>
      {tokens.map((k, i) => (
        <span
          key={i}
          style={{
            position: "absolute",
            left: captionLefts[index] + k.x,
            top: k.base - 0.3375 * k.size,
            lineHeight: "0px",
            fontFamily: "'Liberation Serif', 'Times New Roman', serif",
            fontStyle: k.it ? "italic" : "normal",
            fontSize: k.size,
            color: "#000",
            whiteSpace: "pre",
          }}
        >
          {k.t}
        </span>
      ))}
    </>
  );
}

export default function App() {
  return (
    <div style={{ position: "fixed", left: 0, top: 0, width: 3499, height: 1282, background: "#fff", overflow: "hidden" }}>
      <Panel index={0} layers={panel1Layers} dots={false} />
      <Panel index={1} layers={panel2Layers} dots={false} />
      <Panel index={2} layers={panel3Layers} dots={true} />
      <Caption index={0} />
      <Caption index={1} />
      <Caption index={2} />
    </div>
  );
}
